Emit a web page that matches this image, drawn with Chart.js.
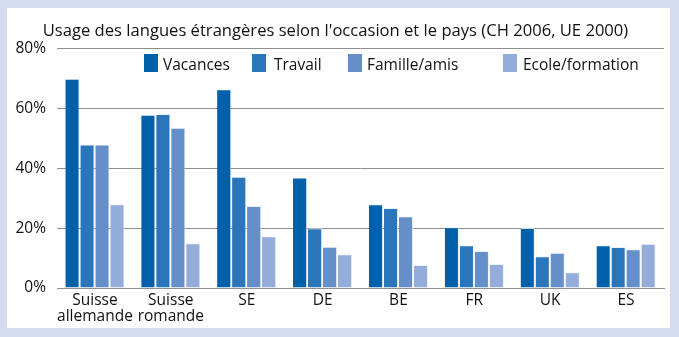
<!DOCTYPE html>
<html>
<head>
<meta charset="utf-8">
<script src="https://cdn.jsdelivr.net/npm/chart.js@4"></script>
<style>
  html, body { margin: 0; padding: 0; }
  body { width: 679px; height: 337px; background: #d4ddef; position: relative; overflow: hidden; }
  #panel { position: absolute; left: 7px; top: 8px; width: 663px; height: 320px; background: #fff; }
  #usageChart { position: absolute; left: 0; top: 0; }
  .leg { position: absolute; top: 46px; height: 18px; font: 15.5px "Open Sans", sans-serif; color: #111; white-space: nowrap; }
  .leg i { position: absolute; left: 0; top: 0; width: 14px; height: 18px; }
  .leg span { position: absolute; top: 0; line-height: 20px; }
</style>
</head>
<body>
<div id="panel">
  <canvas id="usageChart" width="663" height="320"></canvas>
  <div id="legend"></div>
</div>
<script>
// usage of foreign languages by occasion and country, in percent

const countries = [['Suisse', 'allemande'], ['Suisse', 'romande'], 'SE', 'DE', 'BE', 'FR', 'UK', 'ES'];
const occasions = ['Vacances', 'Travail', 'Famille/amis', 'Ecole/formation'];

const vacances = [70, 58, 66.5, 37, 28, 20.3, 20.1, 14.3];
const travail = [48, 58.2, 37.2, 20, 26.8, 14.3, 10.6, 13.7];
const famille = [48, 53.6, 27.4, 13.8, 24, 12.4, 11.8, 13];
const ecole = [28, 15, 17.3, 11.3, 7.7, 8, 5.3, 14.8];

const yTicks = [0, 20, 40, 60, 80];

const colors = ['#0060aa', '#2b76ba', '#658fc8', '#94acd9'];
const legendLeft = [137, 245, 341, 496];
const legendGap = [19, 22, 19, 20];

const series = [vacances, travail, famille, ecole];

const font = "'Open Sans', sans-serif";

const datasets = series.map((values, i) => ({
    label: occasions[i],
    data: values,
    backgroundColor: colors[i],
    borderColor: 'rgba(230,237,248,0.8)',
    borderWidth: { top: 1, right: 1, left: 0, bottom: 0 },
    categoryPercentage: 0.79,
    barPercentage: 0.95
}));

// legend sits inside the plot area, drawn as html
const legend = document.getElementById('legend');
occasions.forEach((name, i) => {
    const item = document.createElement('div');
    item.className = 'leg';
    item.style.left = legendLeft[i] + 'px';
    item.innerHTML = '<i style="background:' + colors[i] + '"></i><span style="left:' + legendGap[i] + 'px">' + name + '</span>';
    legend.appendChild(item);
});

new Chart(document.getElementById('usageChart'), {
    type: 'bar',
    data: {
        labels: countries,
        datasets
    },
    options: {
        responsive: false,
        animation: false,
        layout: { padding: { left: 0, right: 6, top: 0, bottom: 0 } },
        plugins: {
            legend: { display: false },
            tooltip: { enabled: false },
            title: {
                display: true,
                text: "Usage des langues étrangères selon l'occasion et le pays (CH 2006, UE 2000)",
                color: '#111',
                font: { family: font, size: 16.6, weight: 'normal', lineHeight: 1.2 },
                padding: { top: 13, bottom: 8 }
            }
        },
        scales: {
            y: {
                min: 0,
                max: 80,
                afterBuildTicks: (scale) => {
                    scale.ticks = yTicks.map(v => ({ value: v }));
                },
                afterFit: (scale) => { scale.width = 50; },
                ticks: {
                    color: '#111',
                    padding: 11,
                    font: { family: font, size: 15.5 },
                    callback: (v) => v + '%'
                },
                grid: {
                    color: '#8e8e8e',
                    lineWidth: 1,
                    drawTicks: false
                },
                border: { display: false }
            },
            x: {
                afterFit: (scale) => { scale.height = 40; },
                ticks: {
                    color: '#111',
                    padding: 4,
                    font: { family: font, size: 15.5, lineHeight: 1.05 },
                    maxRotation: 0,
                    autoSkip: false
                },
                grid: { display: false, drawTicks: false },
                border: { display: true, color: '#8e8e8e', width: 1 }
            }
        }
    }
});
</script>
</body>
</html>
